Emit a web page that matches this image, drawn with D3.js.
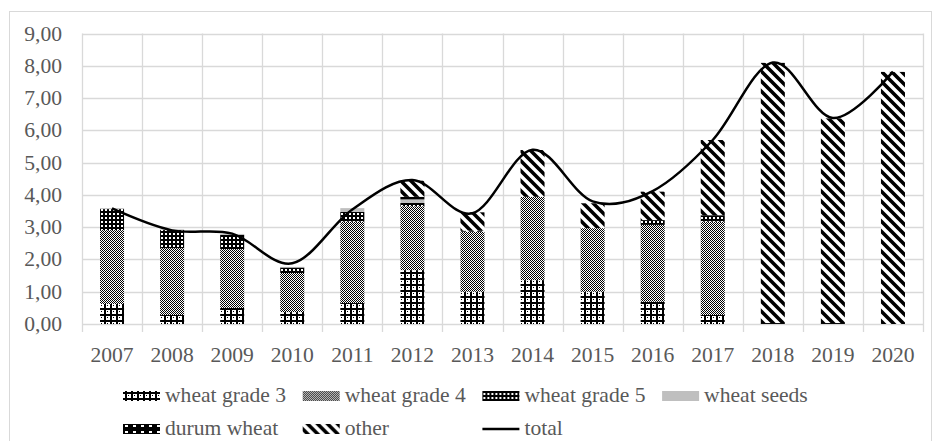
<!DOCTYPE html>
<html>
<head>
<meta charset="utf-8">
<script src="https://cdn.jsdelivr.net/npm/d3@7"></script>
<style>
  body { margin: 0; background: #fff; }
</style>
</head>
<body>
<svg id="chart" width="933" height="441" font-family="'Liberation Serif', 'DejaVu Serif', serif"></svg>
<script>
// données
const years = ["2007", "2008", "2009", "2010", "2011", "2012", "2013", "2014", "2015", "2016", "2017", "2018", "2019", "2020"];
const wheatGrade3 = [0.62, 0.28, 0.50, 0.37, 0.65, 1.67, 1.00, 1.36, 1.00, 0.69, 0.28, 0, 0, 0];
const wheatGrade4 = [2.29, 2.07, 1.82, 1.21, 2.52, 1.98, 1.86, 2.58, 1.97, 2.38, 2.89, 0, 0, 0];
const wheatGrade5 = [0.65, 0.56, 0.44, 0.17, 0.30, 0.10, 0, 0, 0, 0.15, 0.20, 0, 0, 0];
const wheatSeeds = [0.03, 0.02, 0.03, 0.02, 0.12, 0.11, 0, 0, 0, 0, 0, 0, 0, 0];
const durumWheat = [0, 0, 0, 0, 0, 0.08, 0.03, 0, 0, 0, 0, 0.03, 0.03, 0];
const other = [0, 0, 0, 0, 0, 0.50, 0.57, 1.45, 0.77, 0.88, 2.33, 8.06, 6.34, 7.81];
const total = [3.58, 2.90, 2.80, 1.88, 3.55, 4.46, 3.43, 5.40, 3.80, 4.12, 5.70, 8.10, 6.38, 7.82];
const yTicks = [0, 1, 2, 3, 4, 5, 6, 7, 8, 9];

const seriesNames = ["wheat grade 3", "wheat grade 4", "wheat grade 5", "wheat seeds", "durum wheat", "other"];
const seriesValues = [wheatGrade3, wheatGrade4, wheatGrade5, wheatSeeds, durumWheat, other];
const seriesFill = ["url(#pGrade3)", "url(#pGrade4)", "url(#pGrade5)", "#bfbfbf", "url(#pDurum)", "url(#pOther)"];

// tableau pour d3.stack
const table = years.map((y, i) => {
  const row = { year: y };
  seriesNames.forEach((n, k) => { row[n] = seriesValues[k][i]; });
  return row;
});

const svg = d3.select("#chart");
const sx = 1.08; // texte un peu étiré horizontalement
const textColor = "#595959";

// motifs noir et blanc
const defs = svg.append("defs");
function pattern(id, w, h) {
  return defs.append("pattern").attr("id", id).attr("patternUnits", "userSpaceOnUse")
    .attr("width", w).attr("height", h);
}
// grade 3 : croix
let p = pattern("pGrade3", 6, 6);
p.append("rect").attr("width", 6).attr("height", 6).attr("fill", "#fff");
p.append("rect").attr("x", 2).attr("y", 0).attr("width", 2).attr("height", 6).attr("fill", "#000");
p.append("rect").attr("x", 0).attr("y", 2).attr("width", 6).attr("height", 2).attr("fill", "#000");
p.append("rect").attr("x", 5).attr("y", 5).attr("width", 1).attr("height", 1).attr("fill", "#000");
// grade 4 : damier fin
p = pattern("pGrade4", 2, 2);
p.append("rect").attr("width", 2).attr("height", 2).attr("fill", "#fff");
p.append("rect").attr("width", 1).attr("height", 1).attr("fill", "#000");
p.append("rect").attr("x", 1).attr("y", 1).attr("width", 1).attr("height", 1).attr("fill", "#000");
// grade 5 : noir avec points blancs
p = pattern("pGrade5", 4, 4);
p.append("rect").attr("width", 4).attr("height", 4).attr("fill", "#000");
p.append("rect").attr("x", 1).attr("y", 1).attr("width", 2).attr("height", 2).attr("fill", "#fff");
// durum : noir avec blocs blancs
p = pattern("pDurum", 8, 6);
p.append("rect").attr("width", 8).attr("height", 6).attr("fill", "#000");
p.append("rect").attr("x", 2).attr("y", 2).attr("width", 3).attr("height", 2).attr("fill", "#fff");
// other : rayures diagonales larges
p = pattern("pOther", 10, 10);
p.append("rect").attr("width", 10).attr("height", 10).attr("fill", "#fff");
p.append("path").attr("d", "M0,0L10,10M-5,5L5,15M5,-5L15,5")
  .attr("stroke", "#000").attr("stroke-width", 3.6);

// cadre extérieur
svg.append("rect").attr("x", 9.5).attr("y", 11.5).attr("width", 922).attr("height", 440)
  .attr("fill", "none").attr("stroke", "#d9d9d9");

const x = d3.scaleBand().domain(years).range([82, 923]).padding(0);
const y = d3.scaleLinear().domain([0, 9]).range([324, 33.5]);
const barW = x.bandwidth() * 0.4;

// grille
svg.append("g").selectAll("line").data(yTicks).join("line")
  .attr("x1", 82).attr("x2", 923)
  .attr("y1", d => Math.round(y(d)) + 0.5).attr("y2", d => Math.round(y(d)) + 0.5)
  .attr("stroke", "#d9d9d9").attr("stroke-width", 1.3);
svg.append("g").selectAll("line").data(years.concat(["end"])).join("line")
  .attr("x1", (d, i) => Math.round(82 + i * x.step()) + 0.5)
  .attr("x2", (d, i) => Math.round(82 + i * x.step()) + 0.5)
  .attr("y1", y(9)).attr("y2", y(0) + 8)
  .attr("stroke", "#d9d9d9").attr("stroke-width", 1.3);

// barres empilées
const stacked = d3.stack().keys(seriesNames)(table);
svg.append("g").selectAll("g").data(stacked).join("g")
  .attr("fill", (d, k) => seriesFill[k])
  .selectAll("rect").data(d => d).join("rect")
  .attr("x", d => x(d.data.year) + (x.bandwidth() - barW) / 2)
  .attr("width", barW)
  .attr("y", d => y(d[1]))
  .attr("height", d => Math.max(0, y(d[0]) - y(d[1])));

// courbe du total
const line = d3.line()
  .x((d, i) => x(years[i]) + x.bandwidth() / 2)
  .y(d => y(d))
  .curve(d3.curveCardinal.tension(0));
svg.append("path").datum(total).attr("d", line)
  .attr("fill", "none").attr("stroke", "#000").attr("stroke-width", 2.5);

// étiquettes de l'axe Y
const fmt = d => d3.format(".2f")(d).replace(".", ",");
svg.append("g").selectAll("text").data(yTicks).join("text")
  .attr("transform", d => `translate(62,${y(d) + 7}) scale(${sx},1)`)
  .attr("text-anchor", "end").attr("font-size", 20).attr("fill", textColor)
  .text(fmt);

// étiquettes de l'axe X
svg.append("g").selectAll("text").data(years).join("text")
  .attr("transform", d => `translate(${x(d) + x.bandwidth() / 2},362) scale(${sx},1)`)
  .attr("text-anchor", "middle").attr("font-size", 20).attr("fill", textColor)
  .text(d => d);

// légende
const legendItems = seriesNames.map((n, k) => ({ name: n, fill: seriesFill[k], type: "box" }));
legendItems.push({ name: "total", type: "line" });
const colW = 179.7;
const leg = svg.append("g").selectAll("g").data(legendItems).join("g")
  .attr("transform", (d, i) => `translate(${123 + (i % 4) * colW},${i < 4 ? 396 : 429})`);
leg.filter(d => d.type === "box").append("rect")
  .attr("x", 0).attr("y", -5).attr("width", 37).attr("height", 10)
  .attr("fill", d => d.fill);
leg.filter(d => d.type === "line").append("line")
  .attr("x1", 0).attr("x2", 37).attr("y1", 0).attr("y2", 0)
  .attr("stroke", "#000").attr("stroke-width", 2.5);
leg.append("text")
  .attr("transform", `translate(42,6) scale(${sx},1)`)
  .attr("font-size", 20).attr("fill", textColor)
  .text(d => d.name);
</script>
</body>
</html>
